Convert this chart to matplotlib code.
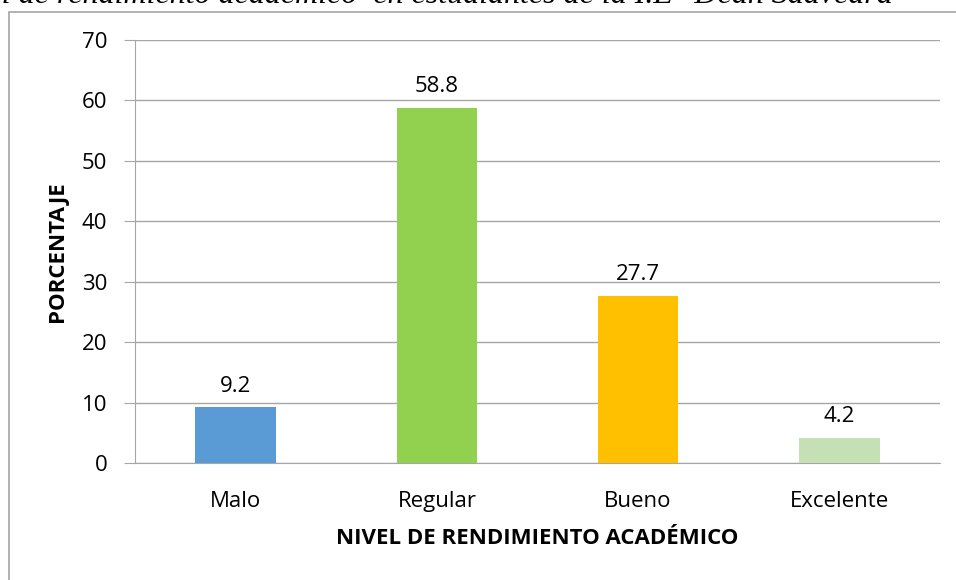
import matplotlib.pyplot as plt
from matplotlib.patches import Rectangle

categorias = ['Malo', 'Regular', 'Bueno', 'Excelente']
porcentajes = [9.2, 58.8, 27.7, 4.2]
colores = ['#5B9BD5', '#92D050', '#FFC000', '#C5E0B4']

plt.rcParams['font.family'] = ['Open Sans', 'DejaVu Sans']

fig = plt.figure(figsize=(9.56, 5.8), dpi=100)
ax = fig.add_axes([135 / 956, 1 - 463 / 580, 805 / 956, 423 / 580])

x = range(len(categorias))
bars = ax.bar(x, porcentajes, width=0.4, color=colores, zorder=3)
for b, v in zip(bars, porcentajes):
    ax.text(b.get_x() + b.get_width() / 2, v + 1.8, f'{v}', ha='center', va='bottom', fontsize=16)

ax.set_xlim(-0.5, 3.5)
ax.set_ylim(0, 70)
ax.set_yticks(range(0, 71, 10))
ax.set_xticks(list(x))
ax.set_xticklabels(categorias, fontsize=16)
ax.tick_params(axis='y', labelsize=16, length=8, color='#A6A6A6', pad=12)
ax.tick_params(axis='x', length=0, pad=20)
ax.grid(axis='y', color='#A6A6A6', linewidth=1, zorder=0)
for s in ['top', 'right']:
    ax.spines[s].set_visible(False)
ax.spines['left'].set_color('#A6A6A6')
ax.spines['bottom'].set_color('#A6A6A6')

ax.set_xlabel('NIVEL DE RENDIMIENTO ACADÉMICO', fontsize=16, fontweight='bold', labelpad=12)
ax.set_ylabel('PORCENTAJE', fontsize=16, fontweight='bold', labelpad=10)

# marco del gráfico
fig.patches.append(Rectangle((9 / 956, -0.1), 1.1, 1.1 - 12 / 580, transform=fig.transFigure,
                             fill=False, edgecolor='#A6A6A6', linewidth=1.2))

# título recortado en la parte superior, como en la captura original
fig.text(906 / 956, 1 - 3 / 580, 'Nivel de rendimiento académico  en estudiantes de la I.E "Dean Saavedra"',
         ha='right', va='baseline', fontsize=23, style='italic', family='Liberation Serif')

fig.savefig('out.png', dpi=100)
